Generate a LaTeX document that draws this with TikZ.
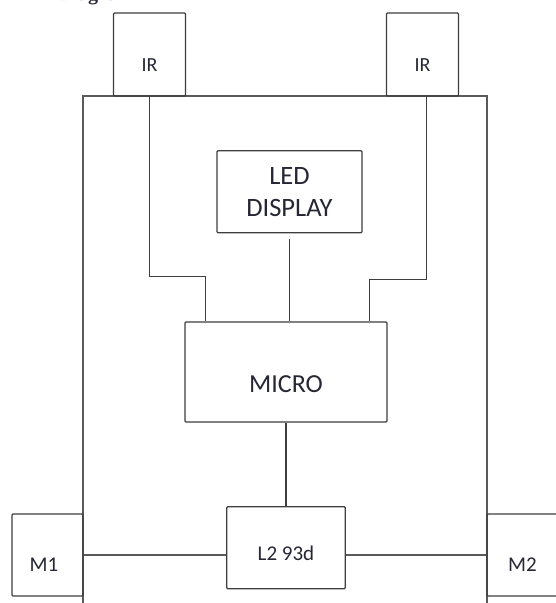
\documentclass[tikz,border=0pt]{standalone}
\usepackage{fontspec}
\setmainfont{Carlito}
\newfontfamily\headfont{Liberation Serif}
\usetikzlibrary{positioning}
\definecolor{ink}{RGB}{38,38,52}
\definecolor{wire}{RGB}{62,62,62}
\definecolor{frame}{RGB}{90,90,90}

\begin{document}
\begin{tikzpicture}[x=1pt,y=-1pt,node distance=88pt,every node/.style={text=ink,inner sep=0pt},every label/.style={text=ink},box/.style={draw=wire,line width=1.2pt,rounded corners=1pt},wire/.style={draw=wire,line width=1.3pt}]
    \useasboundingbox (0,0) rectangle (556,603);
    \clip (0,0) rectangle (556,603);
    \node[anchor=base west,font=\headfont\bfseries\fontsize{20}{24}\selectfont] (title) at (58,0) {Diagram};
    \draw[draw=frame,line width=1.3pt] (83,603) -- (83,96) -- (487,96) -- (487,603);
    \node[box,minimum width=72pt,minimum height=83pt,label={[font=\fontsize{20}{24}\selectfont,yshift=-11pt]center:IR}] (irL) at (149.5,54.5) {};
    \node[box,minimum width=72pt,minimum height=83pt,label={[font=\fontsize{20}{24}\selectfont,yshift=-11pt]center:IR}] (irR) at (422.5,54.5) {};
    \node[box,minimum width=202pt,minimum height=100pt,label={[font=\fontsize{26}{31}\selectfont,yshift=-12pt]center:MICRO}] (micro) at (286,372) {};
    \node[box,minimum width=145pt,minimum height=82pt,align=center,font=\fontsize{26.5}{32}\selectfont,above=of micro,xshift=3.5pt] (led) {LED\\DISPLAY};
    \node[box,minimum width=118.5pt,minimum height=82pt,below=83.5pt of micro,label={[font=\fontsize{21}{25}\selectfont,yshift=-6pt]center:L2 93d}] (drv) {};
    \node[box,minimum width=71pt,minimum height=82pt,label={[font=\fontsize{21}{25}\selectfont,xshift=-3.5pt,yshift=-10pt]center:M1}] (m1) at (47.5,555) {};
    \node[box,minimum width=71pt,minimum height=82pt,label={[font=\fontsize{21}{25}\selectfont,yshift=-10pt]center:M2}] (m2) at (522.5,555) {};
    \draw[wire] (irL.south) -- ++(0,180) -| ([xshift=21pt]micro.north west);
    \draw[wire] ([xshift=4pt]irR.south) -- ++(0,183) -| ([xshift=-18pt]micro.north east);
    \draw[wire] ([yshift=-6pt]led.south) -- (led.south |- micro.north);
    \draw[wire] (drv.north) -- (drv.north |- micro.south);
    \draw[wire,draw=frame] (m1.east) -- (m1.east -| drv.west);
    \draw[wire,draw=frame] (drv.east |- m2.west) -- (m2.west);
  \end{tikzpicture}
\end{document}
